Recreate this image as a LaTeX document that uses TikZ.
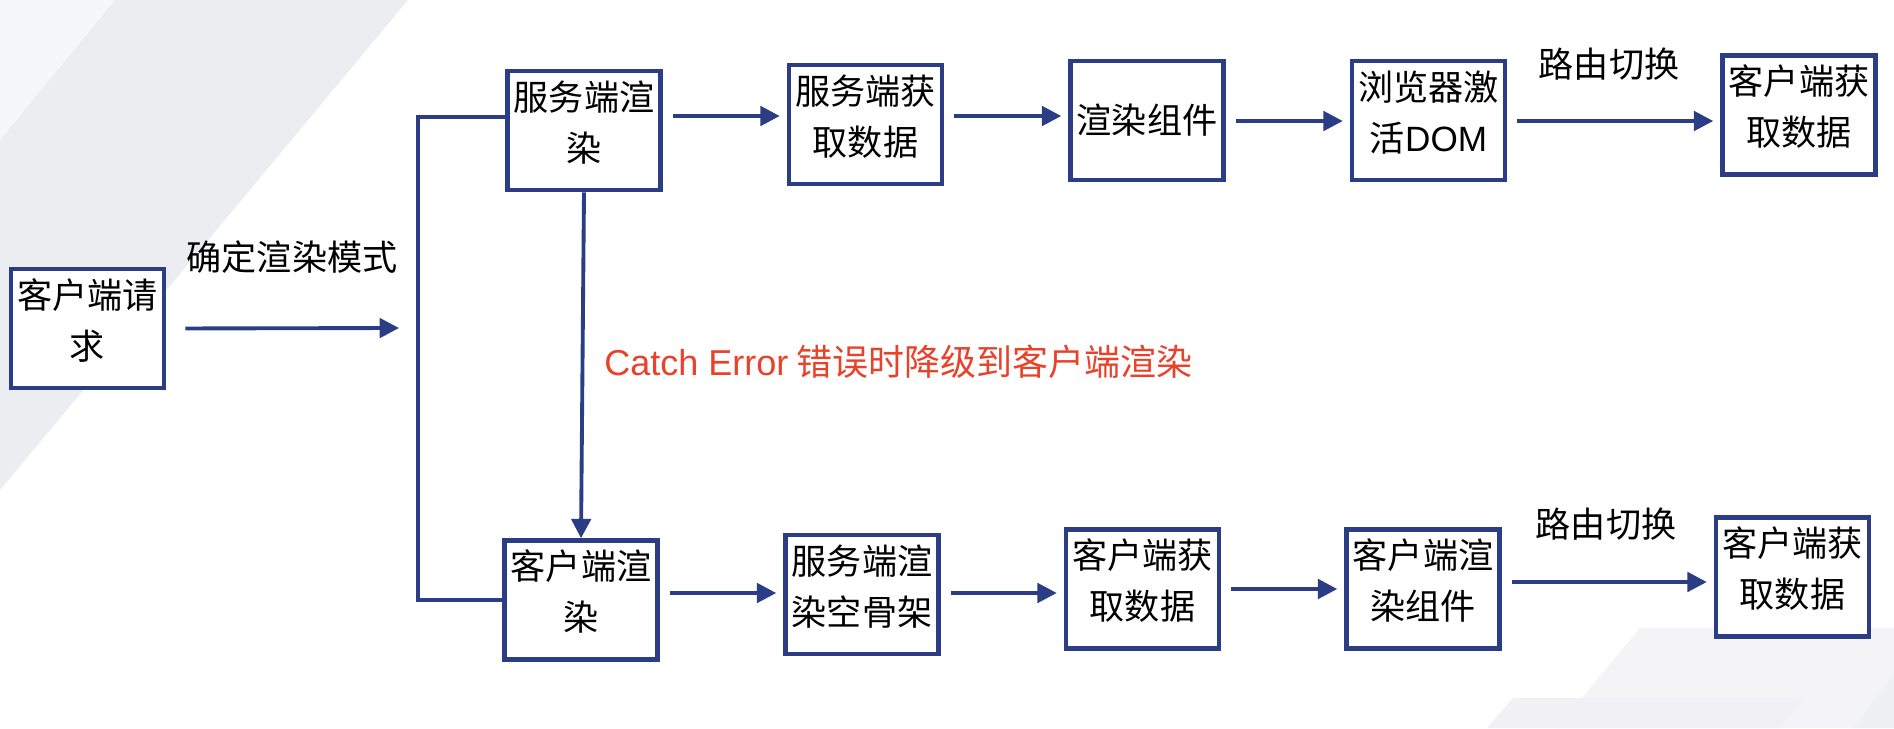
\documentclass[tikz,border=0pt]{standalone}
\usepackage{fontspec}
\setmainfont{Noto Sans CJK SC}
\newfontfamily\latinfont{Liberation Sans}
\usepackage{tikz}
\usetikzlibrary{positioning,arrows.meta}
\definecolor{flowBlue}{RGB}{42,61,133}
\definecolor{errorRed}{RGB}{232,66,42}
\definecolor{bandGray}{RGB}{236,237,241}
\colorlet{lightband}{bandGray!45!white}
\colorlet{cornerGray}{bandGray!60!white}

\begin{document}
\begin{tikzpicture}[x=0.02cm, y=-0.02cm, every node/.style={font=\fontsize{20}{29}\selectfont, align=center, inner sep=0pt},
    box/.style={draw=flowBlue, line width=2.6pt, fill=white, minimum width=3.06cm, minimum height=2.38cm},
    twoline/.style={box, text depth=11pt},
    flow/.style={draw=flowBlue, line width=2.2pt, -{Triangle[length=11pt, width=11pt]}, shorten <=0.2cm, shorten >=0.14cm}]
    \useasboundingbox (0,0) rectangle (1894,728);
    \fill[bandGray] (0,0) -- (408,0) -- (0,490) -- cycle;
    \fill[lightband] (0,0) -- (115,0) -- (0,140) -- cycle;
    \fill[cornerGray] (1640,628) -- (1894,628) -- (1894,728) -- (1557,728) -- cycle;
    \fill[bandGray!75!white] (1513,698) -- (1803,698) -- (1780,728) -- (1487,728) -- cycle;
    \fill[bandGray!85!white] (1894,673) -- (1894,728) -- (1853,728) -- cycle;

    \node[twoline] (request) at (87.5, 328.5) {客户端请\\求};
    \node (modelabel) at (292, 257) {确定渲染模式};
    \coordinate (mode) at (399, 328);

    \node[twoline] (ssr) at (584, 130.5) {服务端渲\\染};
    \node[twoline, right=2.48cm of ssr, yshift=0.12cm] (fetch) {服务端获\\取数据};
    \node[box, right=2.48cm of fetch, yshift=0.08cm] (render) {渲染组件};
    \node[twoline, right=2.48cm of render] (hydrate) {浏览器激\\活{\latinfont DOM}};
    \node[twoline, right=4.26cm of hydrate, yshift=0.11cm] (cfetch) {客户端获\\取数据};
    \node (route) at (1609, 64) {路由切换};

    \node[twoline] (csr) at (581, 600) {客户端渲\\染};
    \node[twoline, right=2.47cm of csr, yshift=0.11cm] (skeleton) {服务端渲\\染空骨架};
    \node[twoline, right=2.46cm of skeleton, yshift=0.11cm] (cfetchb) {客户端获\\取数据};
    \node[twoline, right=2.46cm of cfetchb] (crender) {客户端渲\\染组件};
    \node[twoline, right=4.24cm of crender, yshift=0.24cm] (cfetchc) {客户端获\\取数据};
    \node (routeb) at (1606, 524) {路由切换};

    \node[anchor=west, text=errorRed, font=\fontsize{20.5}{29}\selectfont] (fallback) at (604, 362)
        {{\latinfont Catch Error} 错误时降级到客户端渲染};

    \coordinate (forktop) at (418, 117);
    \coordinate (forkbot) at (418, 600);
    \draw[flowBlue, line width=2.2pt] (ssr.west |- forktop) -- (forktop) -- (forkbot) -- (csr.west |- forkbot);
    \draw[flow, shorten <=0.38cm, shorten >=0pt] (request.east) -- (mode);
    \draw[flow, shorten <=0pt, shorten >=0pt] (ssr.south) -- (csr.north);
    \foreach \a/\b/\y in {ssr/fetch/116, fetch/render/116, render/hydrate/121, hydrate/cfetch/121,
        csr/skeleton/593, skeleton/cfetchb/593, cfetchb/crender/589, crender/cfetchc/582}
        \draw[flow] (\a.east |- 0,\y) -- (\b.west |- 0,\y);
\end{tikzpicture}
\end{document}
